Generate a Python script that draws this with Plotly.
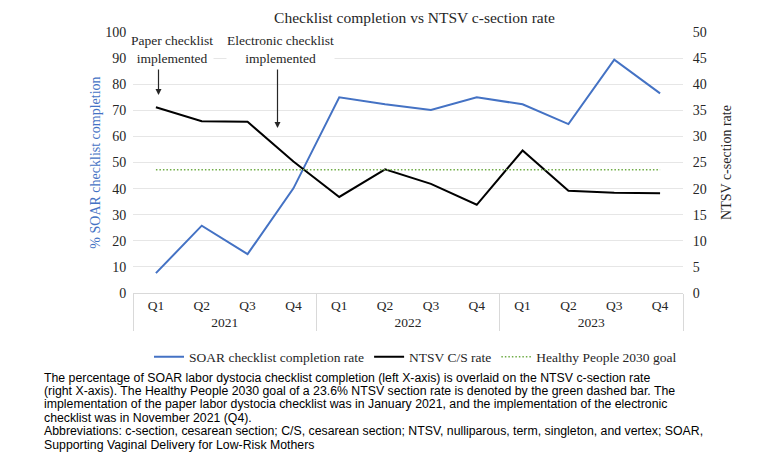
import plotly.graph_objects as go

YEARS = ["2021"] * 4 + ["2022"] * 4 + ["2023"] * 4
QUARTERS = ["Q1", "Q2", "Q3", "Q4"] * 3

SOAR_COMPLETION = [7.6, 25.8, 14.9, 40.1, 75.0, 72.3, 70.1, 75.0, 72.3, 64.7, 89.4, 76.5]
NTSV_CS_RATE = [35.6, 32.9, 32.8, 25.2, 18.4, 23.7, 20.9, 16.9, 27.3, 19.6, 19.2, 19.1]
HP2030_GOAL = [23.6] * 12

CAPTION_LINES = [
    "The percentage of SOAR labor dystocia checklist completion (left X-axis) is overlaid on the NTSV c-section rate",
    "(right X-axis). The Healthy People 2030 goal of a 23.6% NTSV section rate is denoted by the green dashed bar. The",
    "implementation of the paper labor dystocia checklist was in January 2021, and the implementation of the electronic",
    "checklist was in November 2021 (Q4).",
    "Abbreviations: c-section, cesarean section; C/S, cesarean section; NTSV, nulliparous, term, singleton, and vertex; SOAR,",
    "Supporting Vaginal Delivery for Low-Risk Mothers",
]

BLUE = "#4472C4"
SERIF = "Liberation Serif, Times New Roman, serif"

# page body has an 8px margin, so the figure sits 8px in from the window corner
PAD = 8
W, H = 784 - PAD, 472 - PAD
# plot area in window pixels
L, R, T, B = 133, 683, 32, 293


def px_x(x):
    return (x - L) / (R - L)


def px_y(y):
    return (B - y) / (B - T)


x = [YEARS, QUARTERS]

fig = go.Figure()
fig.add_trace(go.Scatter(x=x, y=SOAR_COMPLETION, mode="lines", name="SOAR checklist completion rate",
                         line=dict(color=BLUE, width=2)))
fig.add_trace(go.Scatter(x=x, y=NTSV_CS_RATE, mode="lines", name="NTSV C/S rate",
                         line=dict(color="black", width=2), yaxis="y2"))
fig.add_trace(go.Scatter(x=x, y=HP2030_GOAL, mode="lines", name="Healthy People 2030 goal",
                         line=dict(color="#70AD47", width=1.5, dash="1.5px,2px"), yaxis="y2"))

fig.update_layout(
    width=W, height=H,
    margin=dict(l=L - PAD, r=W - (R - PAD), t=T - PAD, b=H - (B - PAD)),
    paper_bgcolor="white", plot_bgcolor="white",
    font=dict(family=SERIF, size=14, color="#262626"),
    title=dict(text="Checklist completion vs NTSV c-section rate", x=(414.5 - PAD) / W, xanchor="center",
               y=1 - (17.5 - PAD) / H, yanchor="middle", font=dict(size=15.5, color="#262626")),
    xaxis=dict(type="multicategory", range=[-0.5, 11.5], automargin=False, showgrid=False,
               showline=True, linecolor="#d9d9d9", dividercolor="#d9d9d9", dividerwidth=1,
               ticks="outside", ticklen=6, tickcolor="white", tickfont=dict(size=13.5)),
    yaxis=dict(range=[0, 100], dtick=10, automargin=False, showgrid=True, gridcolor="#e6e6e6",
               zeroline=False, ticks="outside", ticklen=3, tickcolor="white",
               title=dict(text="% SOAR checklist completion", font=dict(color=BLUE, size=14), standoff=1),
               tickfont=dict(size=14)),
    yaxis2=dict(range=[0, 50], dtick=5, overlaying="y", side="right", automargin=False,
                showgrid=False, zeroline=False, ticks="outside", ticklen=6, tickcolor="white",
                title=dict(text="NTSV c-section rate", font=dict(size=14)),
                tickfont=dict(size=14)),
    legend=dict(orientation="h", xref="container", yref="container",
                x=(415.5 - PAD) / W, xanchor="center", y=1 - (357 - PAD) / H, yanchor="middle",
                font=dict(size=13.5), bgcolor="rgba(0,0,0,0)"),
    showlegend=True,
)

# implementation notes with arrows
notes = [
    ("Paper checklist<br>implemented", 172, 158.5, 95, 68),
    ("Electronic checklist<br>implemented", 280, 277.5, 128, 68),
]
for text, tx, ax_x, tip_y, tail_y in notes:
    fig.add_annotation(text=text, xref="paper", yref="paper", x=px_x(tx), y=px_y(49),
                       xanchor="center", yanchor="middle", showarrow=False, borderpad=0,
                       font=dict(size=13.5, color="#262626"), bgcolor="white")
    fig.add_annotation(text="", xref="paper", yref="paper", x=px_x(ax_x), y=px_y(tip_y),
                       ax=0, ay=tail_y - tip_y, showarrow=True, arrowhead=2, arrowsize=1,
                       arrowwidth=1.2, arrowcolor="#262626")

# caption below the chart
for i, line in enumerate(CAPTION_LINES):
    fig.add_annotation(text=line, xref="paper", yref="paper", x=px_x(42), y=px_y(377.5 + 13.4 * i),
                       xanchor="left", yanchor="middle", showarrow=False, align="left",
                       font=dict(family="Liberation Sans, Arial, sans-serif", size=12.3, color="black"))

fig.write_html("out.html")
